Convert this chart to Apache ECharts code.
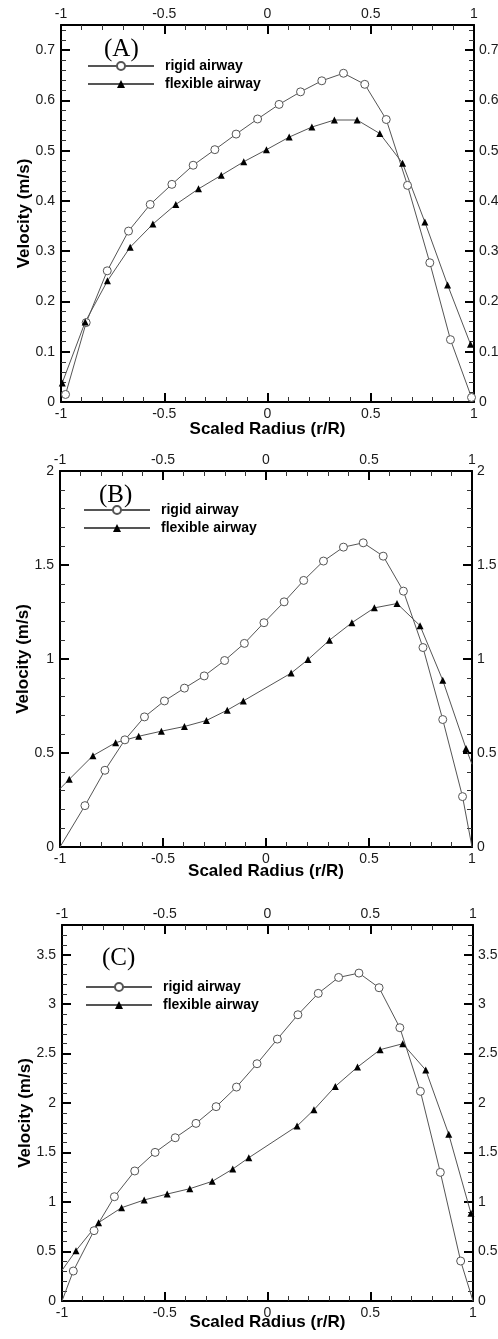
<!DOCTYPE html>
<html>
<head>
<meta charset="utf-8">
<script src="https://cdn.jsdelivr.net/npm/echarts@6/dist/echarts.min.js"></script>
<style>
  html, body { margin: 0; padding: 0; background: #fff; }
  #chart { width: 498px; height: 1339px; }
</style>
</head>
<body>
<div id="chart"></div>
<script>
// series names and panel labels
const seriesNames = ['rigid airway', 'flexible airway']
const panelLabels = ['(A)', '(B)', '(C)']

// velocity axis range per panel
const velocityMax = [0.75, 2, 3.8]
const velocityStep = [0.1, 0.5, 0.5]

// panel A
const aRigidX = [-0.978, -0.878, -0.776, -0.673, -0.568, -0.463, -0.36, -0.255, -0.152, -0.048, 0.056, 0.16, 0.263, 0.368, 0.471, 0.575, 0.678, 0.786, 0.886, 0.988]
const aRigidY = [0.015, 0.158, 0.261, 0.340, 0.393, 0.433, 0.471, 0.502, 0.533, 0.563, 0.592, 0.617, 0.639, 0.654, 0.632, 0.562, 0.431, 0.277, 0.124, 0.009]
const aFlexX = [-0.994, -0.883, -0.775, -0.665, -0.555, -0.444, -0.334, -0.224, -0.115, -0.005, 0.105, 0.215, 0.324, 0.434, 0.544, 0.654, 0.762, 0.872, 0.983]
const aFlexY = [0.038, 0.159, 0.241, 0.308, 0.354, 0.393, 0.424, 0.451, 0.478, 0.502, 0.527, 0.547, 0.561, 0.561, 0.534, 0.475, 0.358, 0.233, 0.115]

// panel B
const bRigidX = [-1, -0.879, -0.782, -0.685, -0.590, -0.493, -0.396, -0.300, -0.201, -0.105, -0.010, 0.088, 0.183, 0.279, 0.376, 0.472, 0.569, 0.667, 0.762, 0.858, 0.954, 1]
const bRigidY = [0, 0.220, 0.408, 0.570, 0.692, 0.777, 0.845, 0.910, 0.992, 1.083, 1.193, 1.304, 1.418, 1.521, 1.595, 1.618, 1.547, 1.361, 1.061, 0.678, 0.268, 0]
const bFlexX = [-1, -0.955, -0.840, -0.730, -0.618, -0.508, -0.396, -0.289, -0.188, -0.110, 0.122, 0.204, 0.308, 0.417, 0.526, 0.636, 0.748, 0.858, 0.971, 1]
const bFlexY = [0.31, 0.360, 0.486, 0.555, 0.589, 0.616, 0.641, 0.673, 0.728, 0.777, 0.925, 0.997, 1.100, 1.193, 1.272, 1.295, 1.177, 0.887, 0.524, 0.44]

// panel C
const cRigidX = [-1, -0.945, -0.844, -0.745, -0.646, -0.547, -0.449, -0.348, -0.250, -0.151, -0.051, 0.048, 0.148, 0.247, 0.346, 0.445, 0.543, 0.644, 0.744, 0.841, 0.940, 1]
const cRigidY = [0, 0.303, 0.711, 1.054, 1.314, 1.502, 1.650, 1.795, 1.964, 2.162, 2.398, 2.647, 2.893, 3.109, 3.270, 3.314, 3.166, 2.762, 2.119, 1.300, 0.404, 0]
const cFlexX = [-1, -0.932, -0.822, -0.710, -0.600, -0.488, -0.378, -0.269, -0.169, -0.091, 0.144, 0.226, 0.330, 0.438, 0.548, 0.658, 0.770, 0.882, 0.990]
const cFlexY = [0.31, 0.509, 0.792, 0.943, 1.021, 1.081, 1.135, 1.209, 1.334, 1.448, 1.768, 1.933, 2.169, 2.364, 2.540, 2.600, 2.334, 1.684, 0.886]

const panels = [
  [[aRigidX, aRigidY], [aFlexX, aFlexY]],
  [[bRigidX, bRigidY], [bFlexX, bFlexY]],
  [[cRigidX, cRigidY], [cFlexX, cFlexY]]
]

// layout
const grids = [
  { left: 61, top: 25, width: 413, height: 377 },
  { left: 60, top: 471, width: 412, height: 376 },
  { left: 62, top: 925, width: 411, height: 376 }
]
const legendPos = [[87, 59], [83, 503], [85, 980]]
const labelPos = [[104, 37], [99, 483], [102, 946]]
const xNameGap = [19, 16, 13]

const sans = 'Liberation Sans'
const lineColor = '#555'

const axisCommon = {
  type: 'value',
  splitLine: { show: false },
  axisLine: { show: true, onZero: false, lineStyle: { color: '#000', width: 2 } },
  axisTick: { show: true, inside: true, length: 9, lineStyle: { color: '#000', width: 2 } },
  minorTick: { show: true, splitNumber: 5, length: 5, lineStyle: { color: '#333', width: 1 } },
  nameMoveOverlap: false
}

const xAxes = []
const yAxes = []
grids.forEach((g, i) => {
  const xBase = {
    ...axisCommon,
    gridIndex: i,
    min: -1,
    max: 1,
    interval: 0.5
  }
  xAxes.push({
    ...xBase,
    position: 'bottom',
    name: 'Scaled Radius (r/R)',
    nameLocation: 'middle',
    nameGap: xNameGap[i],
    nameTextStyle: { fontFamily: sans, fontSize: 17, fontWeight: 'bold', color: '#000' },
    axisLabel: { margin: 5, fontFamily: sans, fontSize: 14, color: '#1a1a1a' }
  })
  xAxes.push({
    ...xBase,
    position: 'top',
    axisLabel: { margin: 4, fontFamily: sans, fontSize: 14, color: '#1a1a1a' }
  })
  const yBase = {
    ...axisCommon,
    gridIndex: i,
    min: 0,
    max: velocityMax[i],
    interval: velocityStep[i]
  }
  yAxes.push({
    ...yBase,
    position: 'left',
    name: 'Velocity (m/s)',
    nameLocation: 'middle',
    nameGap: 28,
    nameTextStyle: { fontFamily: sans, fontSize: 17, fontWeight: 'bold', color: '#000' },
    axisLabel: { margin: 6, fontFamily: sans, fontSize: 14, color: '#1a1a1a', showMaxLabel: velocityMax[i] % velocityStep[i] < 1e-9 }
  })
  yAxes.push({
    ...yBase,
    position: 'right',
    axisLabel: { margin: 5, fontFamily: sans, fontSize: 14, color: '#1a1a1a', showMaxLabel: velocityMax[i] % velocityStep[i] < 1e-9 }
  })
})

const toPoints = (xs, ys) => xs.map((x, k) => {
  const item = { value: [x, ys[k]] }
  if (Math.abs(x) === 1) item.symbol = 'none'
  return item
})

const series = []
panels.forEach((pair, i) => {
  series.push({
    name: seriesNames[0],
    type: 'line',
    xAxisIndex: i * 2,
    yAxisIndex: i * 2,
    data: toPoints(pair[0][0], pair[0][1]),
    symbol: 'circle',
    symbolSize: 8,
    lineStyle: { color: lineColor, width: 1 },
    itemStyle: { color: '#fff', borderColor: lineColor, borderWidth: 1 },
    emphasis: { disabled: true },
    z: 3
  })
  series.push({
    name: seriesNames[1],
    type: 'line',
    xAxisIndex: i * 2,
    yAxisIndex: i * 2,
    data: toPoints(pair[1][0], pair[1][1]),
    symbol: 'triangle',
    symbolSize: 7,
    lineStyle: { color: lineColor, width: 1 },
    itemStyle: { color: '#000' },
    emphasis: { disabled: true },
    z: 3
  })
})

const myChart = echarts.init(document.getElementById('chart'), null, { renderer: 'canvas' })
myChart.setOption({
  backgroundColor: '#fff',
  animation: false,
  grid: grids.map(g => ({ ...g, containLabel: false, outerBoundsMode: 'none' })),
  title: panelLabels.map((t, i) => ({
    text: t,
    left: labelPos[i][0],
    top: labelPos[i][1],
    padding: 0,
    textStyle: { fontFamily: 'Liberation Serif', fontSize: 25, fontWeight: 'normal', color: '#000' }
  })),
  legend: legendPos.map(p => ({
    data: seriesNames,
    orient: 'vertical',
    left: p[0],
    top: p[1],
    padding: 0,
    itemWidth: 66,
    itemHeight: 10,
    itemGap: 4,
    selectedMode: false,
    textStyle: { fontFamily: sans, fontSize: 14, fontWeight: 'bold', color: '#000', padding: [0, 0, 0, 6] }
  })),
  xAxis: xAxes,
  yAxis: yAxes,
  series: series
})
</script>
</body>
</html>
